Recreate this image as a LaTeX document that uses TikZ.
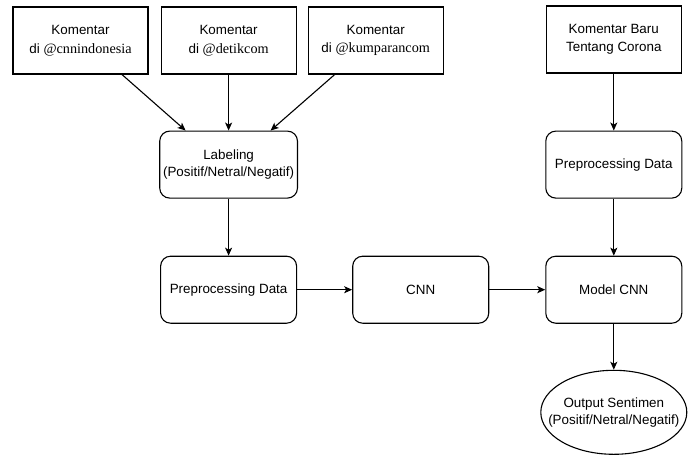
\documentclass[tikz,border=0pt]{standalone}
\usepackage{fontspec}
\setmainfont{Liberation Sans}
\newfontfamily\serifpart{Liberation Serif}
\usepackage{tikz}
\usetikzlibrary{positioning, arrows.meta, shapes.geometric}
\tikzset{
    x=1pt, y=-1pt, % one unit is one pixel of the sketch
    >={Stealth[length=8pt, width=7pt, inset=2pt]}, % makes the arrow heads bold
    every node/.style={font=\fontsize{13.4}{16.5}\selectfont, align=center},
    sourcebox/.style={draw, line width=1.1pt, minimum width=135pt, minimum height=67pt,
        font=\fontsize{13.4}{18.5}\selectfont}, % the comment sources
    stepbox/.style={draw, line width=1.1pt, rounded corners=10pt, minimum width=136pt, minimum height=67pt}, % processing steps
    resultnode/.style={draw, ellipse, line width=1.1pt, minimum width=146pt, minimum height=84pt,
        inner xsep=-20pt, inner ysep=0pt},
    flow/.style={->, line width=1.1pt}, % arrows between the steps
}

\begin{document}
\begin{tikzpicture}
    \useasboundingbox (0,0) rectangle (691,459);
    % left part: training
    \node[sourcebox] (k1) at (80.5,40.5) {Komentar\\di {\serifpart\fontsize{14.2}{18.5}\selectfont @cnnindonesia}};
    \node[sourcebox, right=12pt of k1] (k2) {Komentar\\di {\serifpart\fontsize{14.2}{18.5}\selectfont @detikcom}};
    \node[sourcebox, right=11pt of k2] (k3) {Komentar\\di {\serifpart\fontsize{14.2}{18.5}\selectfont @kumparancom}};
    \node[stepbox, below=56pt of k2] (label) {Labeling\\(Positif/Netral/Negatif)};
    \node[stepbox, below=57pt of label] (prep1) {Preprocessing Data};
    \node[stepbox, right=55pt of prep1] (cnn) {CNN};
    % right part: new comments
    \node[stepbox, right=56pt of cnn] (model) {Model CNN};
    \node[stepbox, above=57pt of model] (prep2) {Preprocessing Data};
    \node[sourcebox, above=57pt of prep2] (k4) {Komentar Baru\\Tentang Corona};
    \node[resultnode, below=46pt of model] (output) {Output Sentimen\\(Positif/Netral/Negatif)};

    \draw[flow] ([xshift=41.5pt]k1.south) -- ([xshift=-43pt]label.north);
    \draw[flow] (k2) -- (label);
    \draw[flow] ([xshift=-41pt]k3.south) -- ([xshift=42pt]label.north);
    \draw[flow] (label) -- (prep1);
    \draw[flow] (prep1) -- (cnn);
    \draw[flow] (cnn) -- (model);
    \draw[flow] (k4) -- (prep2);
    \draw[flow] (prep2) -- (model);
    \draw[flow] (model) -- (output);
\end{tikzpicture}
\end{document}
